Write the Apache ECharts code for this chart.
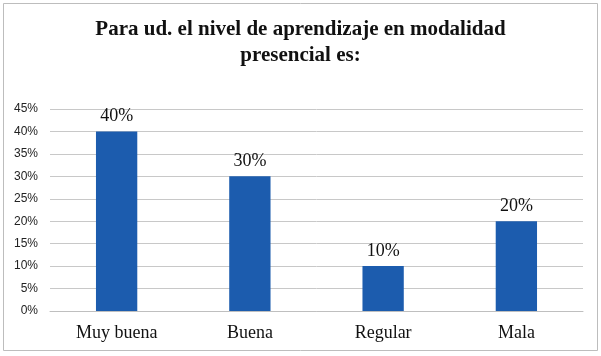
<!DOCTYPE html>
<html><head><meta charset="utf-8">
<script src="https://cdn.jsdelivr.net/npm/echarts@6/dist/echarts.min.js"></script>
<style>html,body{margin:0;padding:0;background:#fff}#c{width:601px;height:356px}</style>
</head><body><div id="c"></div>
<script>
const titleText = 'Para ud. el nivel de aprendizaje en modalidad\npresencial es:';
const categories = ['Muy buena', 'Buena', 'Regular', 'Mala'];
const values = [40, 30, 10, 20];
const chart = echarts.init(document.getElementById('c'), null, {renderer: 'canvas'});
chart.setOption({
  animation: false,
  backgroundColor: '#fff',
  graphic: [{type: 'rect', shape: {x: 3.5, y: 3.5, width: 594, height: 347}, style: {fill: 'none', stroke: '#bdbdbd', lineWidth: 1}, silent: true}],
  title: {
    text: titleText, left: 'center', top: 12,
    textStyle: {fontFamily: 'Liberation Serif', fontWeight: 'bold', fontSize: 21, color: '#111', lineHeight: 26}
  },
  grid: {left: 50, right: 18, top: 109, bottom: 45, containLabel: false},
  xAxis: {
    type: 'category', data: categories,
    axisLine: {lineStyle: {color: '#bfbfbf'}}, axisTick: {show: false},
    axisLabel: {fontFamily: 'Liberation Serif', fontSize: 18, color: '#111', margin: 13}
  },
  yAxis: {
    type: 'value', min: 0, max: 45, interval: 5,
    axisLine: {show: false}, axisTick: {show: false},
    axisLabel: {formatter: '{value}%', fontFamily: 'Liberation Sans', fontSize: 12, color: '#222', margin: 12},
    splitLine: {lineStyle: {color: '#c8c8c8'}}
  },
  series: [{
    type: 'bar', data: values, barWidth: '31%',
    itemStyle: {color: '#1c5cae'},
    label: {show: true, position: 'top', formatter: '{c}%', fontFamily: 'Liberation Serif', fontSize: 18, color: '#111', distance: 6}
  }]
});
</script></body></html>
